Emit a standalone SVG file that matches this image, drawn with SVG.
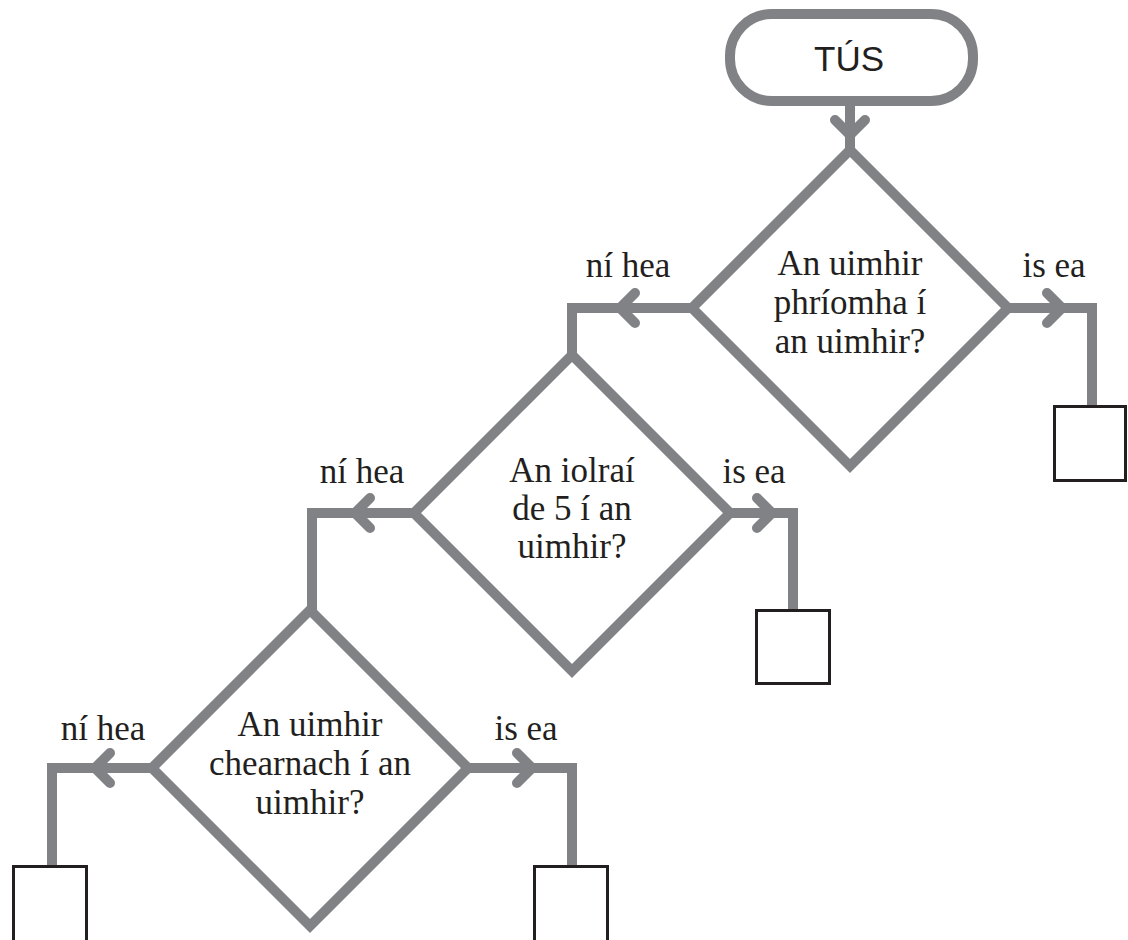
<svg xmlns="http://www.w3.org/2000/svg" width="1128" height="940" viewBox="0 0 1128 940">
<style>
.bg{fill:#ffffff}
.shape{fill:#ffffff;stroke:#808285;stroke-width:10;stroke-linejoin:miter}
.line{fill:none;stroke:#808285;stroke-width:10;stroke-linejoin:miter}
.chev{fill:none;stroke:#808285;stroke-width:10;stroke-linecap:round;stroke-linejoin:miter}
.box{fill:#ffffff;stroke:#231f20;stroke-width:3}
.t{font-family:"Liberation Serif","Times New Roman",serif;font-size:35px;fill:#231f20;text-anchor:middle}
.s{font-family:"Liberation Sans",Arial,sans-serif;font-size:35px;fill:#231f20;text-anchor:middle}
</style>
<rect class="bg" x="0" y="0" width="1128" height="940"/>
<g id="connectors">
<path class="line" d="M850,101 V152"/>
<path class="chev" d="M835,120 L850,135 L865,120"/>
<path class="line" d="M692,308 H572 V357"/>
<path class="chev" d="M635,293 L620,308 L635,323"/>
<path class="line" d="M1008,308 H1092 V405"/>
<path class="chev" d="M1047,293 L1062,308 L1047,323"/>
<path class="line" d="M414,513 H312 V612"/>
<path class="chev" d="M370,498 L355,513 L370,528"/>
<path class="line" d="M730,513 H793 V610"/>
<path class="chev" d="M757,498 L772,513 L757,528"/>
<path class="line" d="M152,768 H52 V865"/>
<path class="chev" d="M110,753 L95,768 L110,783"/>
<path class="line" d="M468,768 H572 V865"/>
<path class="chev" d="M517,753 L532,768 L517,783"/>
</g>
<g id="start">
<rect class="shape" x="730" y="14" width="243" height="87" rx="42" ry="42"/>
<text class="s" x="849" y="71">TÚS</text>
</g>
<g id="decision1">
<polygon class="shape" points="850,150 1008,308 850,466 692,308"/>
<text class="t" x="850" y="275">An uimhir</text>
<text class="t" x="850" y="314">phríomha í</text>
<text class="t" x="850" y="353">an uimhir?</text>
</g>
<g id="decision2">
<polygon class="shape" points="572,355 730,513 572,671 414,513"/>
<text class="t" x="572" y="482">An iolraí</text>
<text class="t" x="572" y="520">de 5 í an</text>
<text class="t" x="572" y="558">uimhir?</text>
</g>
<g id="decision3">
<polygon class="shape" points="310,610 468,768 310,926 152,768"/>
<text class="t" x="310" y="736">An uimhir</text>
<text class="t" x="310" y="775">chearnach í an</text>
<text class="t" x="310" y="814">uimhir?</text>
</g>
<g id="labels">
<text class="t" x="628" y="277">ní hea</text>
<text class="t" x="1054" y="277">is ea</text>
<text class="t" x="362" y="483">ní hea</text>
<text class="t" x="754" y="483">is ea</text>
<text class="t" x="103" y="740">ní hea</text>
<text class="t" x="526" y="740">is ea</text>
</g>
<g id="box1"><rect class="box" x="1054.5" y="406.5" width="71" height="74"/></g>
<g id="box2"><rect class="box" x="756.5" y="610.5" width="73" height="73"/></g>
<g id="box3"><rect class="box" x="13.5" y="866.5" width="73" height="76"/></g>
<g id="box4"><rect class="box" x="534.5" y="866.5" width="73" height="76"/></g>
</svg>
